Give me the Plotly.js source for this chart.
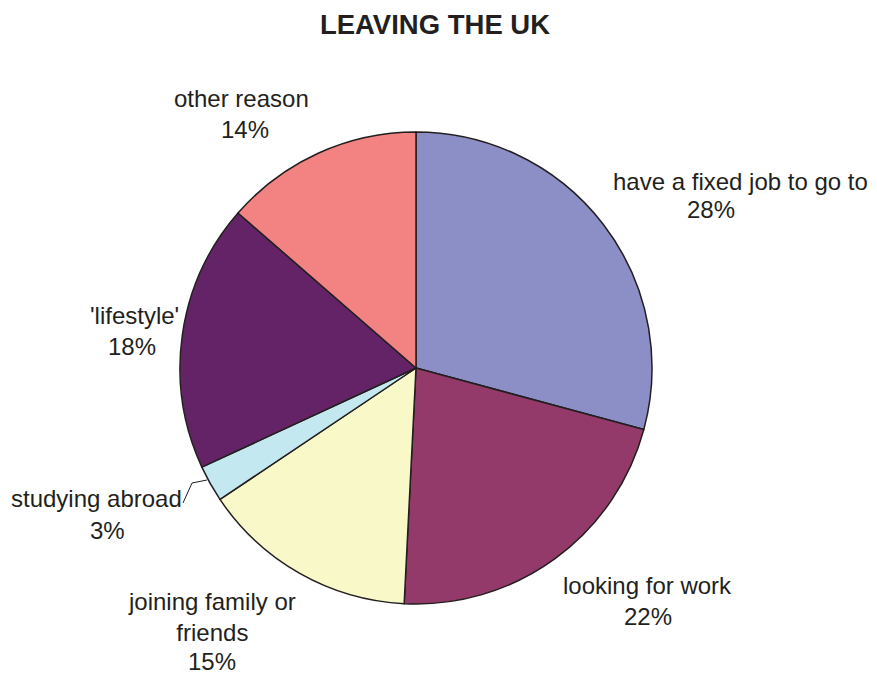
<!DOCTYPE html>
<html>
<head>
<meta charset="utf-8">
<script src="https://cdn.plot.ly/plotly-3.0.1.min.js"></script>
<style>html,body{margin:0;padding:0;background:#fff;}#chart{width:877px;height:677px;}</style>
</head>
<body>
<div id="chart"></div>
<script>
// ---- data ----
var categories = ["have a fixed job to go to", "looking for work", "joining family or<br>friends", "studying abroad", "'lifestyle'", "other reason"];
var values = [29.2, 21.6, 14.8, 2.5, 18.3, 13.6];
var percentLabels = ["28%", "22%", "15%", "3%", "18%", "14%"];
var sliceColors = ["#8B8FC6", "#943A6B", "#F8F8C8", "#C4E8F0", "#632366", "#F38282"];

// ---- layout helpers (pixel -> paper) ----
var W = 877, H = 677;
function px(x) { return x / W; }
function py(y) { return 1 - y / H; }

// label placement (name position, percent position) in pixels
var labelPos = [
  {n: [740, 181], p: [711, 210]},
  {n: [647, 585], p: [648, 616]},
  {n: [212, 617], p: [212, 661]},
  {n: [96, 498], p: [107, 530]},
  {n: [134, 315], p: [132, 346]},
  {n: [242, 98], p: [245, 129]}
];

var textFont = {family: "Liberation Sans, Arial, sans-serif", size: 24, color: "#231F20"};
var annotations = [];
categories.forEach(function (c, i) {
  annotations.push({text: c, x: px(labelPos[i].n[0]), y: py(labelPos[i].n[1]), xref: "paper", yref: "paper",
    xanchor: "center", yanchor: "middle", showarrow: false, font: textFont, align: "center"});
  annotations.push({text: percentLabels[i], x: px(labelPos[i].p[0]), y: py(labelPos[i].p[1]), xref: "paper", yref: "paper",
    xanchor: "center", yanchor: "middle", showarrow: false, font: textFont});
});

var trace = {
  type: "pie",
  labels: categories,
  values: values,
  sort: false,
  direction: "clockwise",
  rotation: 0,
  textinfo: "none",
  hoverinfo: "none",
  marker: {colors: sliceColors, line: {color: "#231F20", width: 1.5}},
  domain: {x: [px(180), px(652)], y: [py(604), py(132)]}
};

var layout = {
  width: W, height: H,
  margin: {l: 0, r: 0, t: 0, b: 0},
  paper_bgcolor: "#ffffff",
  showlegend: false,
  title: {
    text: "<b>LEAVING THE UK</b>",
    x: px(435), xanchor: "center", y: py(24), yanchor: "middle", yref: "paper",
    font: {family: "Liberation Sans, Arial, sans-serif", size: 27.5, color: "#231F20"}
  },
  annotations: annotations,
  shapes: [{
    type: "path", xref: "paper", yref: "paper",
    path: "M " + px(183) + "," + py(503) + " L " + px(192) + "," + py(483) + " L " + px(207) + "," + py(480),
    line: {color: "#231F20", width: 1}
  }]
};

Plotly.newPlot("chart", [trace], layout, {displayModeBar: false, staticPlot: true});
</script>
</body>
</html>
